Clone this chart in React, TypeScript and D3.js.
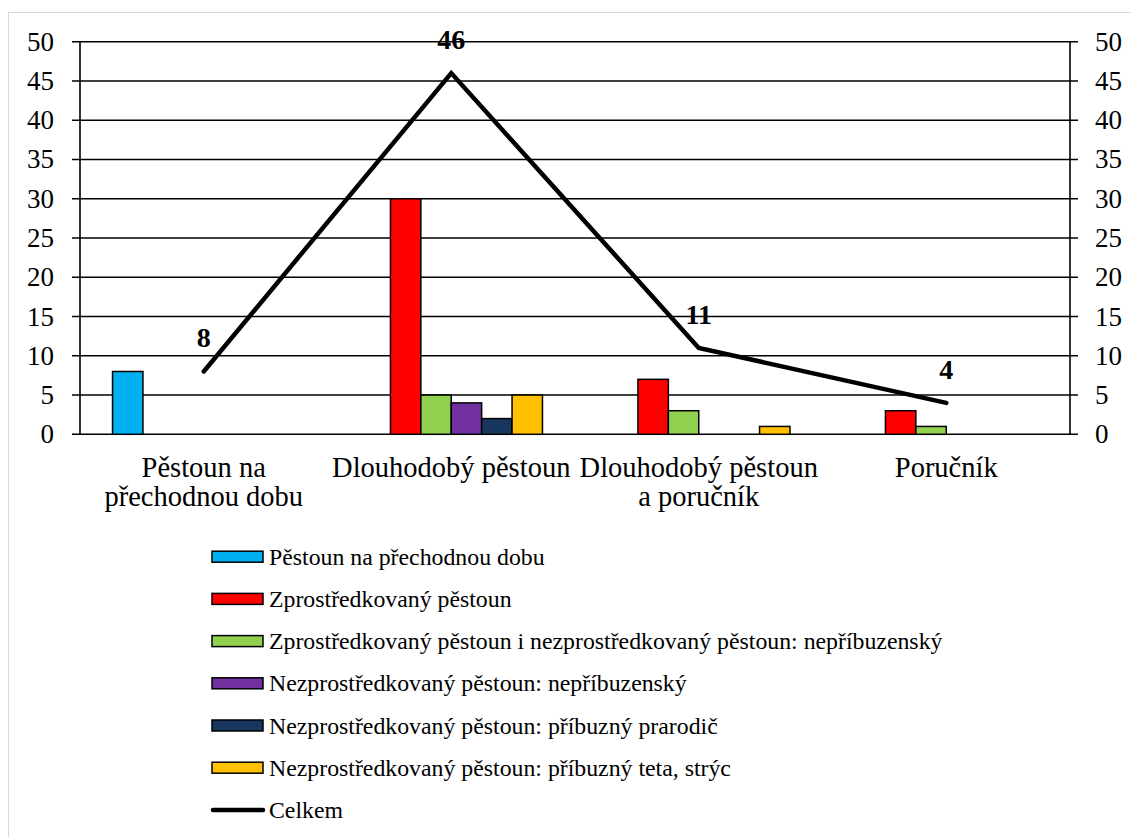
import React from "react";
import * as d3 from "d3";

const categories: string[][] = [
  ["Pěstoun na", "přechodnou dobu"],
  ["Dlouhodobý pěstoun"],
  ["Dlouhodobý pěstoun", "a poručník"],
  ["Poručník"],
];
const seriesNames = [
  "Pěstoun na přechodnou dobu",
  "Zprostředkovaný pěstoun",
  "Zprostředkovaný pěstoun i nezprostředkovaný pěstoun: nepříbuzenský",
  "Nezprostředkovaný pěstoun: nepříbuzenský",
  "Nezprostředkovaný pěstoun: příbuzný prarodič",
  "Nezprostředkovaný pěstoun: příbuzný teta, strýc",
];
const seriesColors = ["#00B0F0", "#FF0000", "#92D050", "#7030A0", "#17375E", "#FFC000"];
const s1 = [8, 0, 0, 0];
const s2 = [0, 30, 7, 3];
const s3 = [0, 5, 3, 1];
const s4 = [0, 4, 0, 0];
const s5 = [0, 2, 0, 0];
const s6 = [0, 5, 1, 0];
const totalName = "Celkem";
const totals = [8, 46, 11, 4];
const yTicks = [0, 5, 10, 15, 20, 25, 30, 35, 40, 45, 50];

const seriesValues = [s1, s2, s3, s4, s5, s6];
const FONT = '"Liberation Serif"';

export default function App() {
  const left = 80, right = 1070, top = 41.7, bottom = 434.3;
  const y = d3.scaleLinear().domain([0, 50]).range([bottom, top]);
  const catIdx = categories.map((_, i) => String(i));
  const x = d3.scaleBand<string>().domain(catIdx).range([left, right]).paddingInner(0).paddingOuter(0);
  const inner = d3
    .scaleBand<string>()
    .domain(seriesNames)
    .range([0, x.bandwidth()])
    .paddingInner(0)
    .paddingOuter(1.07);
  const cx = (i: number) => (x(String(i)) as number) + x.bandwidth() / 2;
  const line = d3
    .line<number>()
    .x((_, i) => cx(i))
    .y((d) => y(d));
  const ts = { fontFamily: FONT };

  return (
    <svg width={1131} height={837} style={{ position: "absolute", left: 0, top: 0, background: "#fff" }}>
      <rect x={8.5} y={12.5} width={1200} height={900} fill="#fff" stroke="#d9d9d9" strokeWidth={1} />
      {/* gridlines */}
      {yTicks.map((t) => (
        <line key={"g" + t} x1={72} x2={1078} y1={y(t)} y2={y(t)} stroke="#000" strokeWidth={1.6} />
      ))}
      <line x1={left} x2={left} y1={top} y2={bottom} stroke="#000" strokeWidth={1.6} />
      <line x1={right} x2={right} y1={top} y2={bottom} stroke="#000" strokeWidth={1.6} />
      {yTicks.map((t) => (
        <g key={"l" + t}>
          <text x={54} y={y(t) + 9} textAnchor="end" fontSize={27} fill="#000" style={ts}>
            {t}
          </text>
          <text x={1095} y={y(t) + 9} textAnchor="start" fontSize={27} fill="#000" style={ts}>
            {t}
          </text>
        </g>
      ))}
      {/* bars */}
      {seriesValues.map((vals, si) =>
        vals.map((v, ci) =>
          v > 0 ? (
            <rect
              key={si + "-" + ci}
              x={(x(String(ci)) as number) + (inner(seriesNames[si]) as number)}
              y={y(v)}
              width={inner.bandwidth()}
              height={y(0) - y(v)}
              fill={seriesColors[si]}
              stroke="#000"
              strokeWidth={1.5}
            />
          ) : null
        )
      )}
      {/* total line */}
      <path d={line(totals) || ""} fill="none" stroke="#000" strokeWidth={4.5} strokeLinecap="round" strokeLinejoin="miter" />
      {totals.map((v, i) => (
        <text key={"d" + i} x={cx(i)} y={y(v) - 24} textAnchor="middle" fontWeight="bold" fontSize={28} fill="#000" style={ts}>
          {v}
        </text>
      ))}
      {/* category labels */}
      {categories.map((lines, i) => (
        <text key={"c" + i} x={cx(i)} y={477} textAnchor="middle" fontSize={28.5} fill="#000" style={ts}>
          {lines.map((ln, j) => (
            <tspan key={j} x={cx(i)} dy={j === 0 ? 0 : 29}>
              {ln}
            </tspan>
          ))}
        </text>
      ))}
      {/* legend */}
      {seriesNames.map((n, i) => {
        const cy = 556.7 + i * 42.2;
        return (
          <g key={"lg" + i}>
            <rect x={212} y={cy - 5.5} width={51} height={11} fill={seriesColors[i]} stroke="#000" strokeWidth={1.5} />
            <text x={269} y={cy + 8} fontSize={23.8} fill="#000" style={ts}>
              {n}
            </text>
          </g>
        );
      })}
      {(() => {
        const cy = 556.7 + 6 * 42.2;
        return (
          <g>
            <line x1={213} x2={263} y1={cy} y2={cy} stroke="#000" strokeWidth={4.5} strokeLinecap="round" />
            <text x={269} y={cy + 8} fontSize={23.8} fill="#000" style={ts}>
              {totalName}
            </text>
          </g>
        );
      })()}
    </svg>
  );
}
